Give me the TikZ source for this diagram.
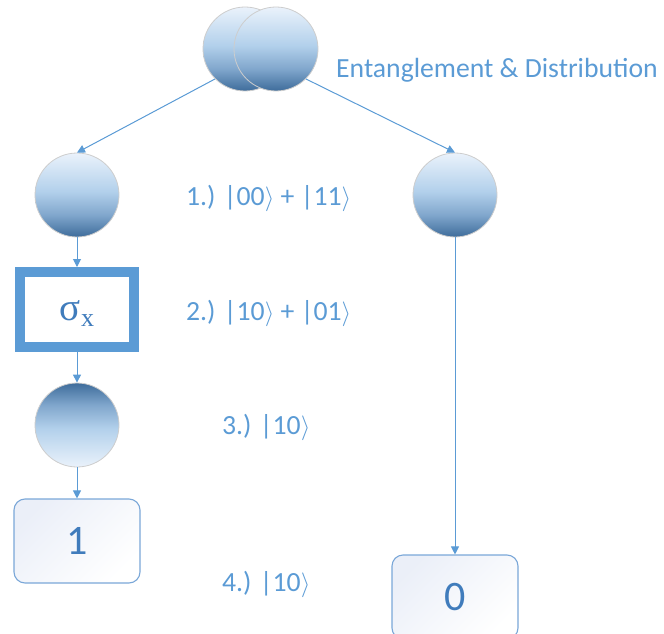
\documentclass[tikz,border=0pt]{standalone}
\usepackage[no-math]{fontspec}
\setmainfont{Carlito}
\newfontfamily\gatefont{Liberation Serif}
\usetikzlibrary{arrows.meta}

\definecolor{labelblue}{RGB}{91,155,213}
\definecolor{digitblue}{RGB}{64,124,188}
\definecolor{gateblue}{RGB}{91,155,213}
\definecolor{boxline}{RGB}{122,167,216}
\definecolor{boxtint}{RGB}{235,239,248}
\definecolor{ringgray}{RGB}{205,205,205}
\definecolor{balltop}{RGB}{234,242,251}
\definecolor{ballmid}{RGB}{178,208,235}
\definecolor{ballmidlow}{RGB}{128,166,204}
\definecolor{balldark}{RGB}{62,108,155}

% sphere-like fill: light at the top, dark at the bottom
\pgfdeclareverticalshading{balldown}{100bp}{%
  color(0bp)=(balldark); color(25bp)=(balldark); color(38bp)=(ballmidlow);
  color(52bp)=(ballmid); color(75bp)=(balltop); color(100bp)=(balltop)}
% same fill turned upside down
\pgfdeclareverticalshading{ballup}{100bp}{%
  color(0bp)=(balltop); color(25bp)=(balltop); color(48bp)=(ballmid);
  color(62bp)=(ballmidlow); color(75bp)=(balldark); color(100bp)=(balldark)}

\tikzset{
  qubit/.style={circle, minimum size=84bp, inner sep=0pt, draw=ringgray,
    line width=0.8bp, shading=balldown},
  qubitflip/.style={qubit, shading=ballup},
  gatebox/.style={rectangle, minimum width=114bp, minimum height=75bp,
    draw=gateblue, line width=10bp, fill=white, inner sep=0pt},
  gatetext/.style={inner sep=0pt, text=digitblue,
    font=\gatefont\fontsize{39bp}{44bp}\selectfont},
  resultbox/.style={rectangle, rounded corners=11bp, minimum width=126bp,
    minimum height=84bp, draw=boxline, line width=1.1bp,
    top color=boxtint, bottom color=white, shading angle=45,
    text=digitblue, font=\fontsize{42bp}{48bp}\selectfont},
  flow/.style={draw=labelblue, line width=1bp,
    -{Triangle[length=8bp,width=8bp]}},
  steplabel/.style={anchor=base west, inner sep=0pt, text=labelblue,
    font=\fontsize{27.7bp}{33bp}\selectfont}
}

\newcommand{\ketr}{\ensuremath{\rangle}}

\begin{document}
\begin{tikzpicture}[x=1bp, y=-1bp]
  \useasboundingbox (0,0) rectangle (664,634);
  \clip (0,0) rectangle (664,634);

  % entangled pair at the source
  \node[qubit] (srcA) at (245,49) {};
  \node[qubit] (srcB) at (276,49) {};
  \node[steplabel] (title) at (336,78) {Entanglement \& Distribution};

  % left branch
  \node[qubit] (leftq) at (77,195) {};
  \node[gatebox] (gate) at (77,309.5) {};
  \node[gatetext] (gatelabel) at (77,314)
    {σ\raisebox{-6bp}{\fontsize{26bp}{30bp}\selectfont x}};
  \node[qubitflip] (leftm) at (77,425) {};
  \node[resultbox] (outone) at (77,541) {1};

  % right branch
  \node[qubit] (rightq) at (455,195) {};
  \node[resultbox] (outzero) at (455,597) {0};

  % connectors
  \draw[flow] (srcA.south west) -- (leftq.north);
  \draw[flow] (srcB.south east) -- (rightq.north);
  \draw[flow] (leftq.south) -- (gate.north);
  \draw[flow] (gate.south) -- (leftm.north);
  \draw[flow] (leftm.south) -- (outone.north);
  \draw[flow] (rightq.south) -- (outzero.north);

  % state after each step
  \node[steplabel] (s1) at (186,205) {1.) |00\ketr{} + |11\ketr};
  \node[steplabel] (s2) at (186,320) {2.) |10\ketr{} + |01\ketr};
  \node[steplabel] (s3) at (222,434) {3.) |10\ketr};
  \node[steplabel] (s4) at (222,591) {4.) |10\ketr};
\end{tikzpicture}
\end{document}
